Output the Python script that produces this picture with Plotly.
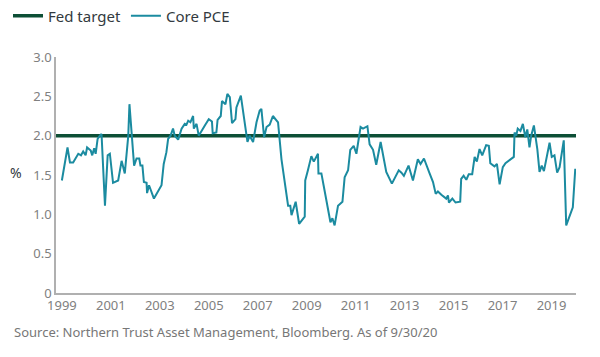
import plotly.graph_objects as go

# Core PCE (year-over-year %)
years = [1999.00, 1999.23, 1999.33, 1999.46, 1999.67, 1999.78, 1999.87, 1999.97, 2000.03, 2000.11,
         2000.18, 2000.24, 2000.32, 2000.38, 2000.46, 2000.55, 2000.62, 2000.76, 2000.87, 2000.96,
         2001.09, 2001.30, 2001.44, 2001.57, 2001.71, 2001.76, 2001.89, 2001.95, 2002.05, 2002.16,
         2002.21, 2002.29, 2002.35, 2002.46, 2002.48, 2002.56, 2002.76, 2003.07, 2003.16, 2003.27,
         2003.34, 2003.44, 2003.54, 2003.61, 2003.75, 2003.89, 2004.02, 2004.09, 2004.16, 2004.25,
         2004.36, 2004.39, 2004.50, 2004.59, 2004.84, 2005.00, 2005.13, 2005.16, 2005.31, 2005.36,
         2005.49, 2005.54, 2005.68, 2005.76, 2005.86, 2005.95, 2006.09, 2006.13, 2006.31, 2006.44,
         2006.58, 2006.67, 2006.81, 2006.95, 2007.08, 2007.15, 2007.26, 2007.36, 2007.49, 2007.62,
         2007.76, 2007.83, 2007.97, 2008.10, 2008.24, 2008.33, 2008.38, 2008.55, 2008.69, 2008.92,
         2008.94, 2009.05, 2009.19, 2009.29, 2009.46, 2009.48, 2009.60, 2009.69, 2009.87, 2009.97,
         2010.05, 2010.14, 2010.28, 2010.46, 2010.55, 2010.69, 2010.78, 2010.92, 2011.03, 2011.20,
         2011.30, 2011.48, 2011.57, 2011.71, 2011.84, 2012.02, 2012.25, 2012.48, 2012.76, 2012.87,
         2012.97, 2013.16, 2013.34, 2013.54, 2013.65, 2013.79, 2014.02, 2014.16, 2014.27, 2014.36,
         2014.50, 2014.63, 2014.70, 2014.77, 2014.81, 2014.95, 2015.08, 2015.27, 2015.31, 2015.41,
         2015.52, 2015.62, 2015.76, 2015.86, 2015.95, 2016.06, 2016.17, 2016.33, 2016.44, 2016.50,
         2016.67, 2016.77, 2016.88, 2017.01, 2017.12, 2017.46, 2017.49, 2017.56, 2017.62, 2017.73,
         2017.83, 2017.93, 2018.01, 2018.10, 2018.17, 2018.28, 2018.42, 2018.51, 2018.60, 2018.69,
         2018.82, 2018.92, 2019.01, 2019.12, 2019.23, 2019.33, 2019.50, 2019.60, 2019.87, 2019.97]

core_pce = [1.43, 1.85, 1.66, 1.66, 1.77, 1.75, 1.80, 1.75, 1.85, 1.83,
            1.81, 1.75, 1.84, 1.77, 1.96, 2.00, 2.02, 1.11, 1.75, 1.77,
            1.40, 1.43, 1.68, 1.52, 1.99, 2.40, 1.77, 1.62, 1.71, 1.71,
            1.62, 1.62, 1.41, 1.40, 1.27, 1.37, 1.20, 1.37, 1.64, 1.79,
            1.96, 2.00, 2.09, 2.00, 1.95, 2.09, 2.15, 2.14, 2.19, 2.17,
            2.25, 2.09, 2.15, 2.00, 2.13, 2.21, 2.18, 2.03, 2.04, 2.20,
            2.25, 2.44, 2.40, 2.53, 2.49, 2.16, 2.21, 2.36, 2.51, 2.21,
            1.92, 2.00, 1.92, 2.17, 2.32, 2.34, 1.98, 2.11, 2.14, 2.25,
            2.19, 2.17, 1.70, 1.41, 1.11, 1.11, 0.99, 1.16, 0.88, 0.97,
            1.43, 1.56, 1.74, 1.67, 1.77, 1.52, 1.52, 1.37, 1.07, 0.90,
            0.95, 0.86, 1.11, 1.16, 1.47, 1.56, 1.82, 1.87, 1.77, 2.11,
            2.09, 2.12, 1.89, 1.82, 1.63, 1.92, 1.54, 1.39, 1.56, 1.53,
            1.49, 1.62, 1.43, 1.70, 1.64, 1.71, 1.52, 1.41, 1.26, 1.29,
            1.25, 1.22, 1.20, 1.24, 1.15, 1.20, 1.15, 1.16, 1.45, 1.49,
            1.44, 1.51, 1.51, 1.73, 1.67, 1.83, 1.75, 1.88, 1.87, 1.65,
            1.61, 1.64, 1.38, 1.60, 1.65, 1.73, 2.04, 2.00, 2.09, 2.06,
            2.15, 1.98, 2.08, 1.85, 2.00, 2.13, 1.83, 1.54, 1.62, 1.55,
            1.73, 1.91, 1.73, 1.75, 1.53, 1.60, 1.94, 0.86, 1.09, 1.58]

fed_target = 2.0
x_start, x_end = 1998.76, 2020.0
tick_years = list(range(1999, 2020, 2))
y_ticks = [0, 0.5, 1.0, 1.5, 2.0, 2.5, 3.0]
y_tick_text = ["0", "0.5", "1.0", "1.5", "2.0", "2.5", "3.0"]

FONT = "Noto Sans"
fig = go.Figure()
fig.add_trace(go.Scatter(
    x=[x_start, x_end], y=[fed_target, fed_target], mode="lines",
    name="Fed target", line=dict(color="#0d4f36", width=3.5),
    hoverinfo="skip"))
fig.add_trace(go.Scatter(
    x=years, y=core_pce, mode="lines", name="Core PCE",
    line=dict(color="#1b8ba0", width=2)))

fig.update_layout(
    width=592, height=349,
    margin=dict(l=48, r=24, t=49, b=64),
    plot_bgcolor="white", paper_bgcolor="white",
    font=dict(family=FONT, size=13, color="#888888"),
    showlegend=True,
    legend=dict(orientation="h", xref="container", yref="container",
                x=0.0, y=0.977, xanchor="left", yanchor="middle",
                font=dict(family=FONT, size=15, color="#333a40"),
                itemwidth=30, tracegroupgap=0, bgcolor="rgba(0,0,0,0)"),
    xaxis=dict(range=[x_start, x_end], tickvals=tick_years,
               ticktext=[str(y) for y in tick_years],
               showgrid=False, zeroline=False, showline=True,
               linecolor="#b0b0b0", linewidth=1.5, ticks="",
               tickfont=dict(size=13, color="#808080")),
    yaxis=dict(range=[0, 3.0], tickvals=y_ticks, ticktext=y_tick_text,
               showgrid=False, zeroline=False, showline=True,
               linecolor="#b0b0b0", linewidth=1.5, ticks="",
               tickfont=dict(size=13, color="#808080")),
    annotations=[
        dict(text="%", xref="paper", yref="paper", x=-0.062, y=0.51,
             xanchor="right", yanchor="middle", showarrow=False,
             font=dict(family=FONT, size=14, color="#333a40")),
        dict(text="Source: Northern Trust Asset Management, Bloomberg. As of 9/30/20",
             xref="paper", yref="paper", x=-0.085, y=-0.165,
             xanchor="left", yanchor="middle", showarrow=False,
             font=dict(family=FONT, size=13, color="#777777")),
    ],
)

fig.write_html("out.html")
